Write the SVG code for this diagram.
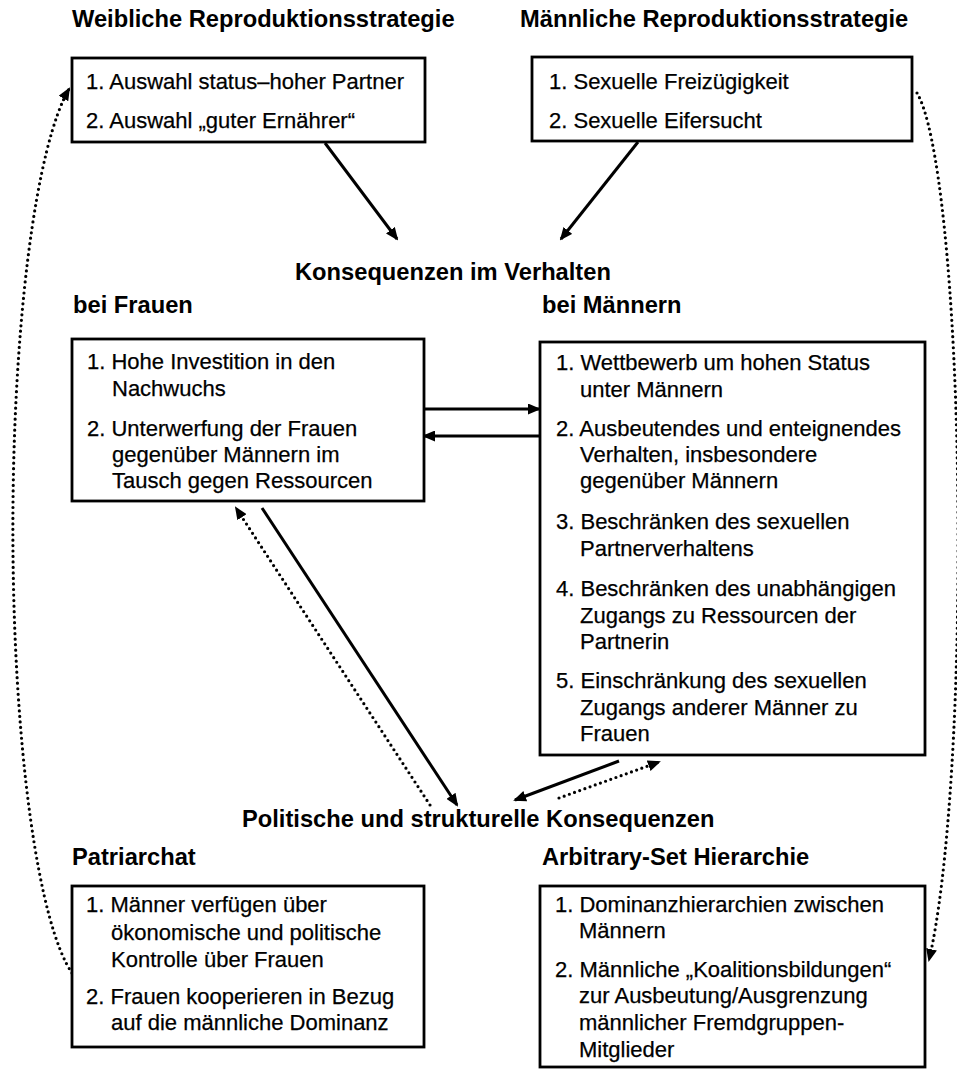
<svg xmlns="http://www.w3.org/2000/svg" width="957" height="1070" viewBox="0 0 957 1070">
  <style>
    .bg { fill: #ffffff; }
    .box { fill: #ffffff; stroke: #000000; stroke-width: 2.8; }
    .head { font-family: "Liberation Sans", Arial, sans-serif; font-weight: bold; font-size: 23.7px; fill: #000000; }
    .body { font-family: "Liberation Sans", Arial, sans-serif; font-size: 22px; fill: #000000; stroke: #000000; stroke-width: 0.25; }
    .solid { fill: none; stroke: #000000; stroke-width: 3; }
    .dots { fill: none; stroke: #000000; stroke-width: 3.2; stroke-linecap: round; stroke-dasharray: 0 5.5; }
  </style>
  <defs>
    <marker id="tip" markerUnits="userSpaceOnUse" markerWidth="13" markerHeight="11" viewBox="0 0 13 11" refX="11" refY="5.5" orient="auto">
      <path d="M0,0 L13,5.5 L0,11 Z" fill="#000000"/>
    </marker>
  </defs>

  <rect class="bg" x="0" y="0" width="957" height="1070"/>

  <!-- section headings -->
  <g id="heading-female-strategy">
    <text class="head" x="72" y="27">Weibliche Reproduktionsstrategie</text>
  </g>
  <g id="heading-male-strategy">
    <text class="head" x="520" y="27">Männliche Reproduktionsstrategie</text>
  </g>
  <g id="heading-behaviour">
    <text class="head" x="295" y="280">Konsequenzen im Verhalten</text>
    <text class="head" x="73" y="313">bei Frauen</text>
    <text class="head" x="542" y="313">bei Männern</text>
  </g>
  <g id="heading-structure">
    <text class="head" x="242" y="827">Politische und strukturelle Konsequenzen</text>
    <text class="head" x="72" y="865">Patriarchat</text>
    <text class="head" x="542" y="865">Arbitrary-Set Hierarchie</text>
  </g>

  <!-- connectors -->
  <g id="connectors">
    <line class="solid" x1="325" y1="143" x2="397" y2="239" marker-end="url(#tip)"/>
    <line class="solid" x1="638" y1="142" x2="561" y2="239" marker-end="url(#tip)"/>
    <line class="solid" x1="424" y1="409" x2="539" y2="409" marker-end="url(#tip)"/>
    <line class="solid" x1="540" y1="436" x2="424" y2="436" marker-end="url(#tip)"/>
    <line class="solid" x1="262" y1="508" x2="457" y2="805" marker-end="url(#tip)"/>
    <line class="dots" x1="430" y1="805" x2="236" y2="508" marker-end="url(#tip)"/>
    <line class="solid" x1="619" y1="761" x2="515" y2="800" marker-end="url(#tip)"/>
    <line class="dots" x1="559" y1="798" x2="659" y2="762" marker-end="url(#tip)"/>
    <path class="dots" d="M72,973 A78,458 0 0 1 69,89" marker-end="url(#tip)"/>
    <path class="dots" d="M917,93 A50,458 0 0 1 929,960" marker-end="url(#tip)"/>
  </g>

  <!-- female strategy -->
  <g id="node-female-strategy">
    <rect class="box" x="72" y="58" width="353" height="84"/>
    <text class="body" x="86" y="89">1. Auswahl status–hoher Partner</text>
    <text class="body" x="86" y="128">2. Auswahl „guter Ernährer“</text>
  </g>

  <!-- male strategy -->
  <g id="node-male-strategy">
    <rect class="box" x="532" y="57" width="380" height="84"/>
    <text class="body" x="549" y="89">1. Sexuelle Freizügigkeit</text>
    <text class="body" x="549" y="128">2. Sexuelle Eifersucht</text>
  </g>

  <!-- behaviour of women -->
  <g id="node-women">
    <rect class="box" x="72" y="339" width="352" height="162"/>
    <text class="body" x="87" y="369">1. Hohe Investition in den</text>
    <text class="body" x="112" y="396">Nachwuchs</text>
    <text class="body" x="87" y="436">2. Unterwerfung der Frauen</text>
    <text class="body" x="112" y="462">gegenüber Männern im</text>
    <text class="body" x="112" y="488">Tausch gegen Ressourcen</text>
  </g>

  <!-- behaviour of men -->
  <g id="node-men">
    <rect class="box" x="540" y="342" width="385" height="413"/>
    <text class="body" x="556" y="370">1. Wettbewerb um hohen Status</text>
    <text class="body" x="580" y="397">unter Männern</text>
    <text class="body" x="556" y="436">2. Ausbeutendes und enteignendes</text>
    <text class="body" x="580" y="462">Verhalten, insbesondere</text>
    <text class="body" x="580" y="488">gegenüber Männern</text>
    <text class="body" x="556" y="529">3. Beschränken des sexuellen</text>
    <text class="body" x="580" y="556">Partnerverhaltens</text>
    <text class="body" x="556" y="596">4. Beschränken des unabhängigen</text>
    <text class="body" x="580" y="623">Zugangs zu Ressourcen der</text>
    <text class="body" x="580" y="649">Partnerin</text>
    <text class="body" x="556" y="688">5. Einschränkung des sexuellen</text>
    <text class="body" x="580" y="715">Zugangs anderer Männer zu</text>
    <text class="body" x="580" y="741">Frauen</text>
  </g>

  <!-- patriarchy -->
  <g id="node-patriarchy">
    <rect class="box" x="72" y="886" width="352" height="161"/>
    <text class="body" x="86" y="912">1. Männer verfügen über</text>
    <text class="body" x="111" y="940">ökonomische und politische</text>
    <text class="body" x="111" y="967">Kontrolle über Frauen</text>
    <text class="body" x="86" y="1004">2. Frauen kooperieren in Bezug</text>
    <text class="body" x="111" y="1030">auf die männliche Dominanz</text>
  </g>

  <!-- arbitrary-set hierarchy -->
  <g id="node-arbitrary-set">
    <rect class="box" x="540" y="886" width="385" height="181"/>
    <text class="body" x="555" y="912">1. Dominanzhierarchien zwischen</text>
    <text class="body" x="579" y="938">Männern</text>
    <text class="body" x="555" y="977">2. Männliche „Koalitionsbildungen“</text>
    <text class="body" x="579" y="1003">zur Ausbeutung/Ausgrenzung</text>
    <text class="body" x="579" y="1030">männlicher Fremdgruppen-</text>
    <text class="body" x="579" y="1057">Mitglieder</text>
  </g>
</svg>
